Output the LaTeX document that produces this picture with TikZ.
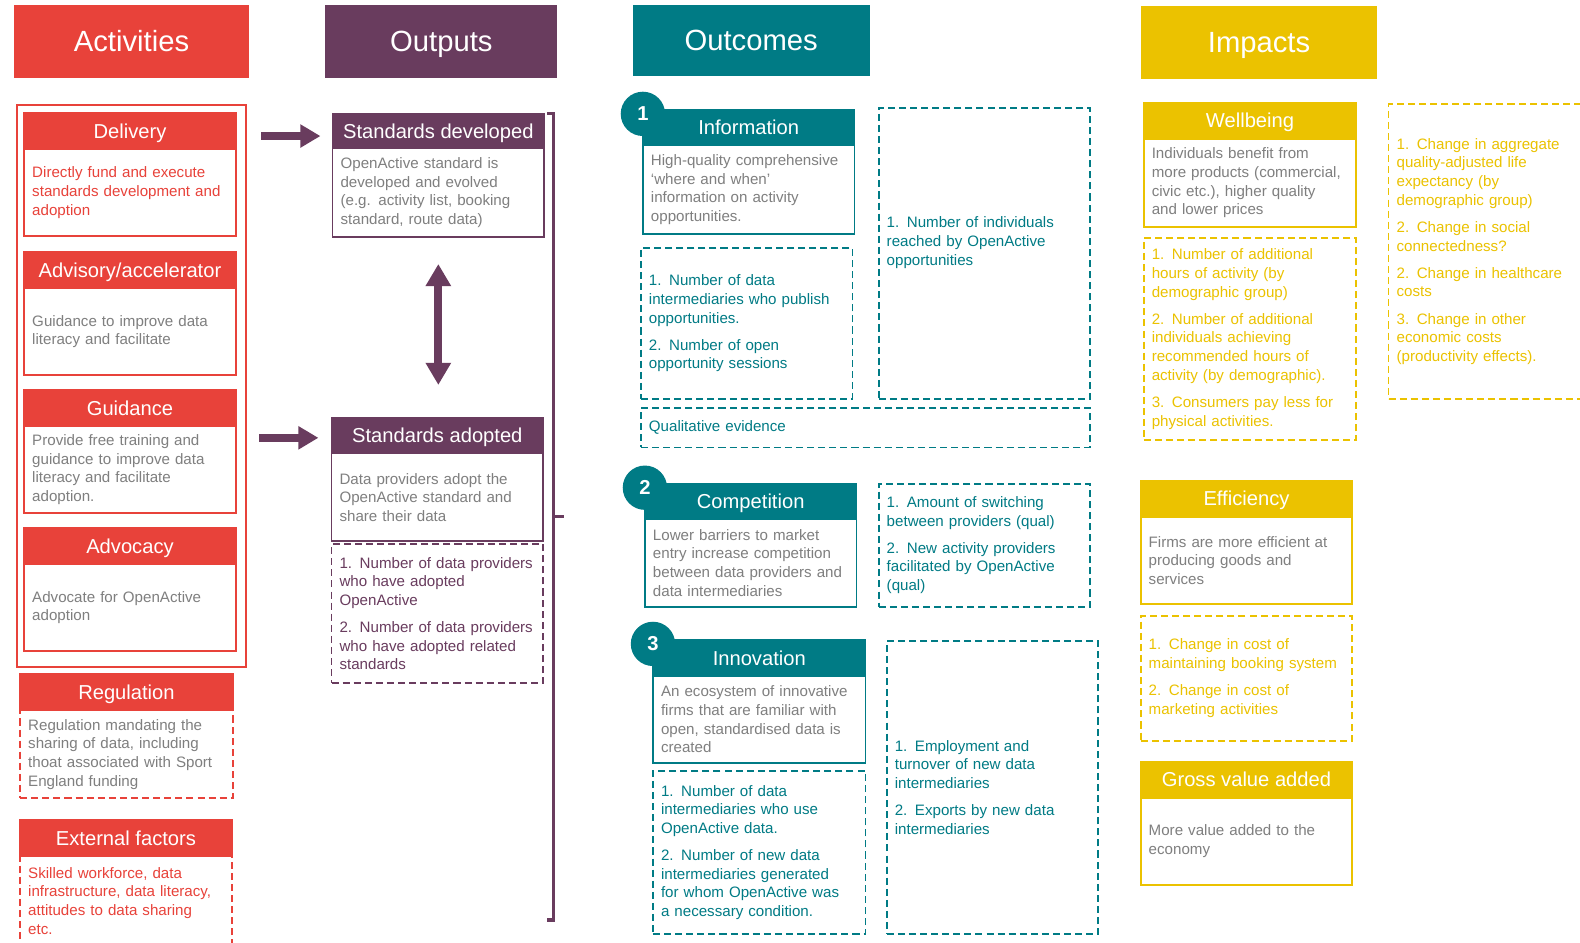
\documentclass[tikz,border=0pt]{standalone}
\usepackage{fontspec}
\setmainfont{Liberation Sans}
\usetikzlibrary{positioning,arrows.meta}
\definecolor{actRed}{HTML}{E8423A}
\definecolor{outPurple}{HTML}{693C5E}
\definecolor{outcTeal}{HTML}{007B85}
\definecolor{impYellow}{HTML}{EBC200}
\definecolor{textGray}{HTML}{7F7F7F}
\newcommand{\bodyfont}{\fontsize{15}{18.5}\selectfont}

\tikzset{
  colHead/.style={fill=#1, text=white, minimum width=233pt, minimum height=72pt, inner sep=0pt, text height=21pt, text depth=0pt, font=\fontsize{29}{34}\selectfont},
  boxHead/.style={fill=#1, draw=#1, line width=1.8pt, text=white, minimum width=210pt, minimum height=35pt, inner sep=0pt, outer sep=0pt, text height=14pt, text depth=0pt, font=\fontsize{20}{24}\selectfont},
  boxBody/.style={draw=#1, line width=1.8pt, fill=white, text=textGray, text width=194pt, inner xsep=8pt, inner ysep=3pt, outer sep=0pt, align=left, font=\bodyfont},
  dashBody/.style={draw=#1, dash pattern=on 7pt off 4pt, line width=1.8pt, text=#1, text width=194pt, inner xsep=8pt, inner ysep=3pt, outer sep=0pt, align=left, font=\bodyfont},
  numBadge/.style={circle, fill=outcTeal, text=white, minimum size=44pt, inner sep=0pt, font=\fontsize{20}{24}\selectfont\bfseries},
  fatArrow/.style={draw=outPurple, line width=8pt, -{Triangle[length=20pt,width=22pt]}}
}

\begin{document}
\begin{tikzpicture}[x=1pt,y=-1pt]
\useasboundingbox (0,0) rectangle (1568,935);
\fill[white] (0,0) rectangle (1568,935);
\clip (0,0) rectangle (1568,935);

%% column titles
\node [colHead=actRed] (actHead) at (130.5,41) {Activities};
\node [colHead=outPurple, minimum width=230pt] (outHead) at (438,41) {Outputs};
\node [colHead=outcTeal, minimum width=235pt, minimum height=70pt] (outcHead) at (745.5,40) {Outcomes};
\node [colHead=impYellow, minimum width=235pt] (impHead) at (1249.5,42) {Impacts};

%% activities
\node [draw=actRed, line width=2.2pt, minimum width=227pt, minimum height=558pt, inner sep=0pt, anchor=north west] (actFrame) at (16,103) {};
\node [boxHead=actRed, minimum height=36pt, anchor=north west] (delivHead) at (24,112) {Delivery};
\node [boxBody=actRed, text=actRed, minimum height=86pt, below=0pt of delivHead] (delivBody) {Directly fund and execute\\ standards development and\\ adoption};
\node [boxHead=actRed, minimum height=36pt, below=16pt of delivBody] (advisHead) {Advisory/accelerator};
\node [boxBody=actRed, minimum height=86pt, below=0pt of advisHead] (advisBody) {Guidance to improve data\\ literacy and facilitate};
\node [boxHead=actRed, minimum height=36pt, below=15pt of advisBody] (guidHead) {Guidance};
\node [boxBody=actRed, minimum height=86pt, below=0pt of guidHead] (guidBody) {Provide free training and\\ guidance to improve data\\ literacy and facilitate\\ adoption.};
\node [boxHead=actRed, minimum height=36pt, below=15pt of guidBody] (advocHead) {Advocacy};
\node [boxBody=actRed, minimum height=86pt, below=0pt of advocHead] (advocBody) {Advocate for OpenActive\\ adoption};

\node [boxHead=actRed, minimum width=211pt, minimum height=36pt, anchor=north west] (regHead) at (20,669) {Regulation};
\node [dashBody=actRed, text=textGray, text width=195pt, minimum height=87pt, below=0pt of regHead] (regBody) {Regulation mandating the\\ sharing of data, including\\ thoat associated with Sport\\ England funding};
\node [boxHead=actRed, minimum height=36pt, anchor=north west] (extHead) at (20,814) {External factors};
\node [dashBody=actRed, minimum height=88pt, below=0pt of extHead] (extBody) {Skilled workforce, data\\ infrastructure, data literacy,\\ attitudes to data sharing\\ etc.};

%% outputs
\node [boxHead=outPurple, minimum height=34pt, anchor=north west] (sdevHead) at (330,113) {Standards developed};
\node [boxBody=outPurple, minimum height=88pt, below=0pt of sdevHead] (sdevBody) {OpenActive standard is\\ developed and evolved\\ (e.g. activity list, booking\\ standard, route data)};
\node [boxHead=outPurple, anchor=north west] (sadoptHead) at (329,415) {Standards adopted};
\node [boxBody=outPurple, minimum height=87pt, below=0pt of sadoptHead] (sadoptBody) {Data providers adopt the\\ OpenActive standard and\\ share their data};
\node [dashBody=outPurple, minimum height=138pt, below=3pt of sadoptBody] (sadoptInd) {1. Number of data providers\\ who have adopted\\ OpenActive\\[8.5pt] 2. Number of data providers\\ who have adopted related\\ standards};

%% outcomes
\node [boxHead=outcTeal, anchor=north west] (infoHead) at (638,109) {Information};
\node [numBadge] (infoNum) at ([yshift=-4pt]infoHead.north west) {1};
\node [boxBody=outcTeal, minimum height=88pt, below=0pt of infoHead] (infoBody) {High-quality comprehensive\\ ‘where and when’\\ information on activity\\ opportunities.};
\node [dashBody=outcTeal, minimum height=150pt, anchor=north west] (infoIndA) at (636,246) {1. Number of data\\ intermediaries who publish\\ opportunities.\\[8.5pt] 2. Number of open\\ opportunity sessions};
\node [dashBody=outcTeal, minimum height=289pt, anchor=north west] (infoIndB) at (872,107) {1. Number of individuals\\ reached by OpenActive\\ opportunities\\[6pt] \mbox{}};
\node [dashBody=outcTeal, text width=430pt, minimum height=39pt, anchor=north west] (qualEv) at (636,405) {Qualitative evidence};

\node [boxHead=outcTeal, anchor=north west] (compHead) at (640,480) {Competition};
\node [numBadge] (compNum) at ([yshift=-4pt]compHead.north west) {2};
\node [boxBody=outcTeal, minimum height=87pt, below=0pt of compHead] (compBody) {Lower barriers to market\\ entry increase competition\\ between data providers and\\ data intermediaries};
\node [dashBody=outcTeal, minimum height=122pt, anchor=north west] (compInd) at (872,480) {1. Amount of switching\\ between providers (qual)\\[8.5pt] 2. New activity providers\\ facilitated by OpenActive\\ (qual)};

\node [boxHead=outcTeal, minimum width=211pt, minimum height=36pt, anchor=north west] (innovHead) at (648,635) {Innovation};
\node [numBadge] (innovNum) at ([yshift=-4pt]innovHead.north west) {3};
\node [boxBody=outcTeal, text width=195pt, minimum height=86pt, below=0pt of innovHead] (innovBody) {An ecosystem of innovative\\ firms that are familiar with\\ open, standardised data is\\ created};
\node [dashBody=outcTeal, text width=195pt, minimum height=162pt, anchor=north west] (innovIndA) at (648,765) {1. Number of data\\ intermediaries who use\\ OpenActive data.\\[8.5pt] 2. Number of new data\\ intermediaries generated\\ for whom OpenActive was\\ a necessary condition.};
\node [dashBody=outcTeal, minimum height=291pt, anchor=north west] (innovIndB) at (880,636) {1. Employment and\\ turnover of new data\\ intermediaries\\[8.5pt] 2. Exports by new data\\ intermediaries};

%% impacts
\node [boxHead=impYellow, minimum width=211pt, minimum height=36pt, anchor=north west] (wellHead) at (1135,102) {Wellbeing};
\node [boxBody=impYellow, text width=195pt, minimum height=87pt, below=0pt of wellHead] (wellBody) {Individuals benefit from\\ more products (commercial,\\ civic etc.), higher quality\\ and lower prices};
\node [dashBody=impYellow, text width=195pt, minimum height=201pt, anchor=north west] (wellIndA) at (1135,236) {1. Number of additional\\ hours of activity (by\\ demographic group)\\[8.5pt] 2. Number of additional\\ individuals achieving\\ recommended hours of\\ activity (by demographic).\\[8.5pt] 3. Consumers pay less for\\ physical activities.};
\node [dashBody=impYellow, text width=230pt, minimum height=293pt, anchor=north west] (wellIndB) at (1378,103) {1. Change in aggregate\\ quality-adjusted life\\ expectancy (by\\ demographic group)\\[8.5pt] 2. Change in social\\ connectedness?\\[8.5pt] 2. Change in healthcare\\ costs\\[8.5pt] 3. Change in other\\ economic costs\\ (productivity effects).};

\node [boxHead=impYellow, minimum height=36pt, anchor=north west] (effHead) at (1132,477) {Efficiency};
\node [boxBody=impYellow, minimum height=86pt, below=0pt of effHead] (effBody) {Firms are more efficient at\\ producing goods and\\ services};
\node [dashBody=impYellow, minimum height=124pt, anchor=north west] (effInd) at (1132,611) {1. Change in cost of\\ maintaining booking system\\[8.5pt] 2. Change in cost of\\ marketing activities};

\node [boxHead=impYellow, minimum height=36pt, anchor=north west] (gvaHead) at (1132,756) {Gross value added};
\node [boxBody=impYellow, minimum height=86pt, below=0pt of gvaHead] (gvaBody) {More value added to the\\ economy};

%drawings of arrows
\draw[fatArrow] ([xshift=14pt,yshift=-5pt]actFrame.east |- sdevHead.west) -- ([xshift=-12pt,yshift=-5pt]sdevHead.west);
\draw[fatArrow] ([xshift=12pt,yshift=-2pt]actFrame.east |- sadoptHead.west) -- ([xshift=-13pt,yshift=-2pt]sadoptHead.west);
\draw[fatArrow, {Triangle[length=22pt,width=24pt]}-{Triangle[length=22pt,width=24pt]}] ([yshift=-27pt]sdevBody.south) -- ([yshift=33pt]sdevBody.south |- sadoptHead.north);

%the bracket
\draw[outPurple, line width=3pt] (543,113) -- (549,113) -- (549,913) -- (543,913);
\draw[outPurple, line width=3pt] (549,513) -- (560,513);

\end{tikzpicture}
\end{document}
